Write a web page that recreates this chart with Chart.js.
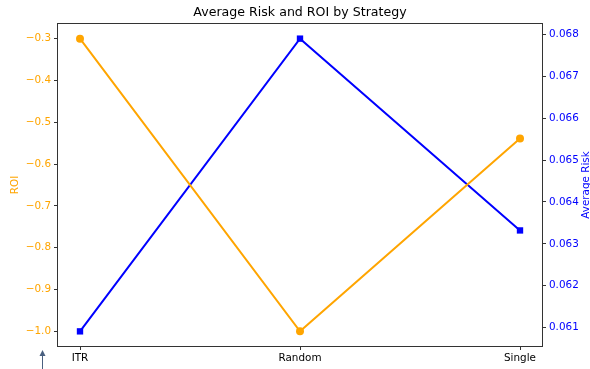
<!DOCTYPE html>
<html>
<head>
<meta charset="utf-8">
<script src="https://cdn.jsdelivr.net/npm/chart.js@4.4.1/dist/chart.umd.min.js"></script>
<style>
  html, body { margin: 0; padding: 0; background: #fff; }
  #wrap { width: 590px; height: 369px; }
</style>
</head>
<body>
<div id="wrap"><canvas id="myChart" width="590" height="369"></canvas></div>
<script>
// strategies and their averages
const strategies = ['ITR', 'Random', 'Single'];
const roi = [-0.30, -1.00, -0.539];
const avgRisk = [0.06091, 0.0679, 0.06332];

// tick values on each axis
const roiTicks = [-1.0, -0.9, -0.8, -0.7, -0.6, -0.5, -0.4, -0.3];
const riskTicks = [0.061, 0.062, 0.063, 0.064, 0.065, 0.066, 0.067, 0.068];

const TITLE = 'Average Risk and ROI by Strategy';
const ORANGE = '#ffa500';
const BLUE = '#0000ff';
const FONT = 'DejaVu Sans';
const TICK_SIZE = 10.4;

// 5% margin around data like matplotlib
function pad(arr) {
  const lo = Math.min(...arr), hi = Math.max(...arr);
  const m = (hi - lo) * 0.05;
  return { min: lo - m, max: hi + m };
}
const roiRange = pad(roi);
const riskRange = pad(avgRisk);

const minus = s => s.replace('-', '\u2212');

// frame, title over the plot, axis titles and the little arrow below the axis
const extras = {
  id: 'extras',
  afterDraw(chart) {
    const c = chart.ctx;
    const a = chart.chartArea;
    c.save();
    c.strokeStyle = '#333';
    c.lineWidth = 1;
    c.strokeRect(a.left - 0.5, a.top - 0.5, a.right - a.left + 1, a.bottom - a.top + 1);

    c.textAlign = 'center';
    c.textBaseline = 'middle';
    c.fillStyle = '#000';
    c.font = '12.6px "' + FONT + '"';
    c.fillText(TITLE, (a.left + a.right) / 2, 13);

    c.font = TICK_SIZE + 'px "' + FONT + '"';
    const midY = (a.top + a.bottom) / 2;
    c.fillStyle = ORANGE;
    c.translate(15, midY);
    c.rotate(-Math.PI / 2);
    c.fillText('ROI', 0, 0);
    c.setTransform(1, 0, 0, 1, 0, 0);
    c.fillStyle = BLUE;
    c.translate(586, midY);
    c.rotate(-Math.PI / 2);
    c.fillText('Average Risk', 0, 0);
    c.setTransform(1, 0, 0, 1, 0, 0);

    c.strokeStyle = '#4a6080';
    c.fillStyle = '#4a6080';
    c.beginPath();
    c.moveTo(42.5, 355);
    c.lineTo(42.5, 369);
    c.stroke();
    c.beginPath();
    c.moveTo(42.5, 350);
    c.lineTo(39.5, 356);
    c.lineTo(45.5, 356);
    c.closePath();
    c.fill();
    c.restore();
  }
};

document.addEventListener('DOMContentLoaded', function() {
  'use strict'
  const ctx = document.getElementById('myChart')
  const myChart = new Chart(ctx, {
    type: 'line',
    data: {
      datasets: [
        {
          label: 'ROI',
          data: roi.map((v, i) => ({ x: i, y: v })),
          yAxisID: 'y',
          borderColor: ORANGE,
          backgroundColor: ORANGE,
          borderWidth: 2,
          pointStyle: 'circle',
          pointRadius: 4,
          pointBorderWidth: 0,
          tension: 0
        },
        {
          label: 'Average Risk',
          data: avgRisk.map((v, i) => ({ x: i, y: v })),
          yAxisID: 'y1',
          borderColor: BLUE,
          backgroundColor: BLUE,
          borderWidth: 2,
          pointStyle: 'rect',
          pointRadius: 4.5,
          pointBorderWidth: 0,
          tension: 0
        }
      ]
    },
    options: {
      responsive: false,
      animation: false,
      layout: { padding: { left: 0, right: 0, top: 24, bottom: 0 } },
      plugins: {
        legend: { display: false },
        tooltip: { enabled: false },
        title: { display: false }
      },
      scales: {
        x: {
          type: 'linear',
          min: -0.1,
          max: 2.1,
          bounds: 'data',
          afterBuildTicks: s => { s.ticks = strategies.map((_, i) => ({ value: i })) },
          afterFit: s => { s.height = 23 },
          grid: { drawOnChartArea: false, tickLength: 4, color: '#333' },
          border: { display: false },
          ticks: {
            color: '#000',
            font: { family: FONT, size: TICK_SIZE },
            padding: 2,
            maxRotation: 0,
            callback: v => strategies[v]
          }
        },
        y: {
          position: 'left',
          min: roiRange.min,
          max: roiRange.max,
          bounds: 'data',
          afterBuildTicks: s => { s.ticks = roiTicks.map(v => ({ value: v })) },
          afterFit: s => { s.width = 58 },
          grid: { drawOnChartArea: false, tickLength: 4, color: '#333' },
          border: { display: false },
          ticks: {
            color: ORANGE,
            font: { family: FONT, size: TICK_SIZE },
            padding: 3,
            callback: v => minus(v.toFixed(1))
          }
        },
        y1: {
          position: 'right',
          min: riskRange.min,
          max: riskRange.max,
          bounds: 'data',
          afterBuildTicks: s => { s.ticks = riskTicks.map(v => ({ value: v })) },
          afterFit: s => { s.width = 48 },
          grid: { drawOnChartArea: false, tickLength: 4, color: '#333' },
          border: { display: false },
          ticks: {
            color: BLUE,
            font: { family: FONT, size: TICK_SIZE },
            padding: 3,
            callback: v => v.toFixed(3)
          }
        }
      }
    },
    plugins: [extras]
  })
})
</script>
</body>
</html>
